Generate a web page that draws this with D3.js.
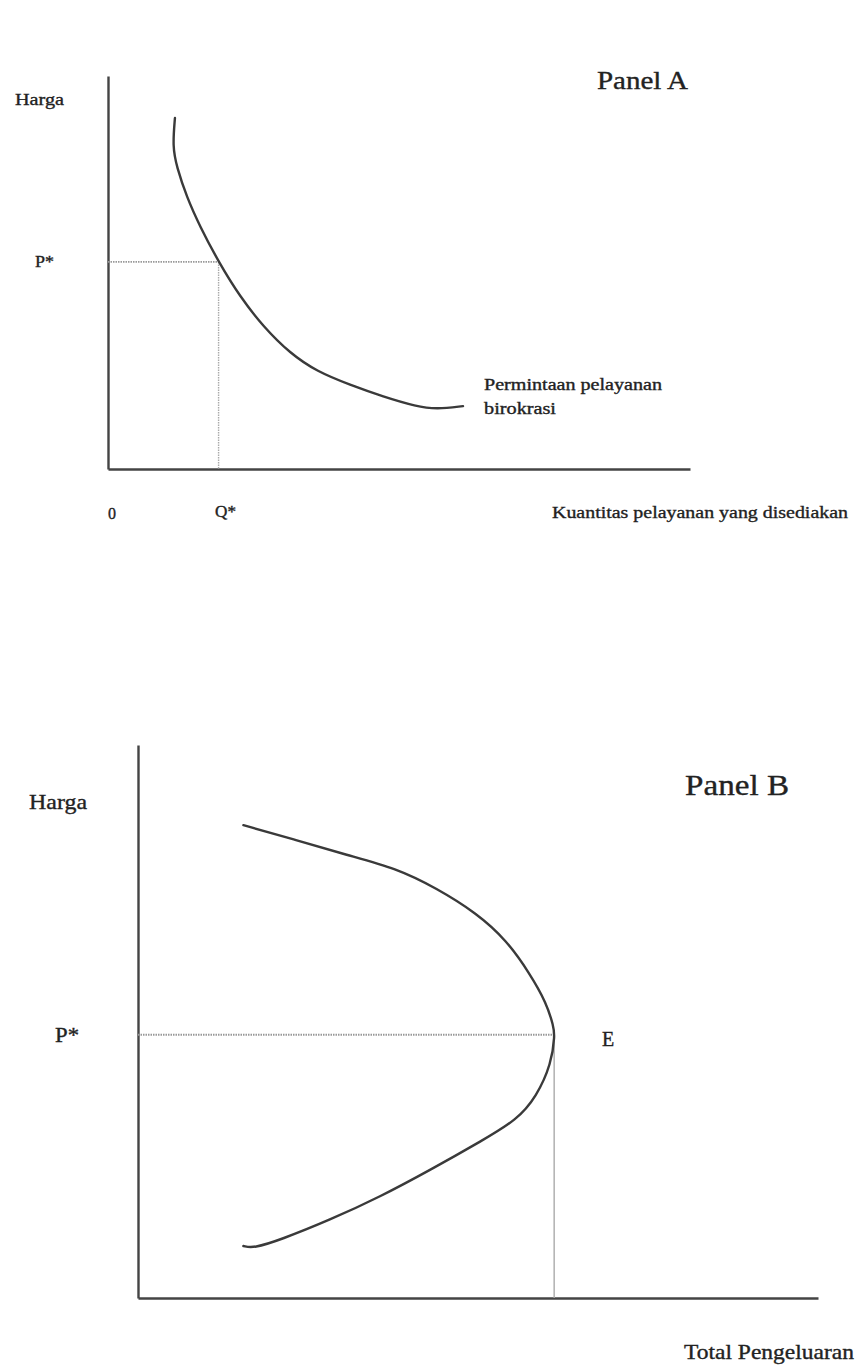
<!doctype html>
<html lang="en">
<head>
<meta charset="utf-8">
<title>Panel A / Panel B</title>
<style>
body { margin: 0; background: #fff; }
svg text { font-family: "Liberation Serif", "Times New Roman", serif; fill: #222; stroke: #222; stroke-width: 0.35px; }
</style>
</head>
<body>
<div id="chart"></div>
<script src="https://cdn.jsdelivr.net/npm/d3@7"></script>
<script>
// Panel A: demand for bureaucratic service (quantity, price), 0..100 units
var demandA = [
  [11.5, 89.3], [11.1, 82.0], [11.8, 76.9], [13.5, 69.3], [15.8, 61.7],
  [19.0, 52.7], [22.7, 43.8], [26.7, 36.2], [31.3, 29.4], [35.9, 24.8],
  [41.6, 21.4], [47.3, 18.4], [53.0, 15.9], [56.5, 15.2], [61.0, 16.0]
];
var eqA = {q: 19.0, p: 52.7};

// Panel B: total spending (spending, price), 0..100 units
var spendB = [
  [15.5, 85.5], [23.3, 82.8], [30.7, 80.1], [38.0, 77.7], [43.9, 74.1],
  [49.8, 69.6], [54.2, 64.7], [57.6, 58.7], [60.1, 53.3], [61.1, 49.1],
  [61.3, 47.6], [60.8, 42.4], [58.6, 36.4], [55.7, 32.2], [50.8, 28.6],
  [42.9, 23.1], [35.6, 18.3], [28.2, 14.1], [20.9, 10.5], [17.0, 9.0],
  [15.5, 9.4]
];
var eqB = {q: 61.2, p: 47.6};

var svg = d3.select("#chart").append("svg")
    .attr("width", 855).attr("height", 1365);

function panel(cfg) {
  var x = d3.scaleLinear().domain([0, 100]).range(cfg.xr);
  var y = d3.scaleLinear().domain([0, 100]).range(cfg.yr);
  var g = svg.append("g");

  // axes (no ticks, just the lines)
  g.append("g").attr("transform", "translate(0," + cfg.yr[0] + ")")
    .call(d3.axisBottom(x).ticks(0).tickSize(0))
    .call(function(s) { s.select(".domain").attr("stroke", "#444").attr("stroke-width", 2.4); });
  g.append("g").attr("transform", "translate(" + cfg.xr[0] + ",0)")
    .call(d3.axisLeft(y).ticks(0).tickSize(0))
    .call(function(s) { s.select(".domain").attr("stroke", "#444").attr("stroke-width", 2.4); });

  // reference lines
  g.append("line")
    .attr("x1", x(0)).attr("x2", x(cfg.eq.q))
    .attr("y1", y(cfg.eq.p)).attr("y2", y(cfg.eq.p))
    .attr("stroke", "#999").attr("stroke-width", 1.8).attr("stroke-dasharray", "1.5,1");
  g.append("line")
    .attr("x1", x(cfg.eq.q)).attr("x2", x(cfg.eq.q))
    .attr("y1", y(cfg.eq.p)).attr("y2", y(0))
    .attr("stroke", "#aaa").attr("stroke-width", 1.4)
    .attr("stroke-dasharray", cfg.vdash);

  // curve
  g.append("path").datum(cfg.data)
    .attr("fill", "none").attr("stroke", "#3a3a3a").attr("stroke-width", 2.4)
    .attr("stroke-linecap", "round")
    .attr("d", d3.line().x(function(d) { return x(d[0]); })
                        .y(function(d) { return y(d[1]); })
                        .curve(d3.curveBasis));

  cfg.labels.forEach(function(l) {
    var t = g.append("text").attr("x", l.x).attr("y", l.y)
      .style("font-size", l.size + "px").text(l.text);
    if (l.w) t.attr("textLength", l.w).attr("lengthAdjust", "spacingAndGlyphs");
  });
}

panel({
  xr: [108, 690], yr: [469, 76], data: demandA, eq: eqA, vdash: "1.5,1",
  labels: [
    {text: "Harga", x: 15, y: 105, size: 17, w: 49},
    {text: "P*", x: 35, y: 267, size: 16, w: 19},
    {text: "0", x: 108, y: 519, size: 16},
    {text: "Q*", x: 215, y: 517, size: 16, w: 21},
    {text: "Permintaan pelayanan", x: 484, y: 390, size: 16, w: 178},
    {text: "birokrasi", x: 484, y: 414, size: 16, w: 72},
    {text: "Kuantitas pelayanan yang disediakan", x: 552, y: 518, size: 17, w: 296},
    {text: "Panel A", x: 597, y: 89, size: 25, w: 91}
  ]
});

panel({
  xr: [138, 818], yr: [1298, 745], data: spendB, eq: eqB, vdash: null,
  labels: [
    {text: "Harga", x: 29, y: 809, size: 21, w: 58},
    {text: "P*", x: 55, y: 1042, size: 21, w: 24},
    {text: "E", x: 602, y: 1046, size: 20},
    {text: "Panel B", x: 685, y: 795, size: 30, w: 104},
    {text: "Total Pengeluaran", x: 684, y: 1359, size: 21, w: 170}
  ]
});
</script>
</body>
</html>
